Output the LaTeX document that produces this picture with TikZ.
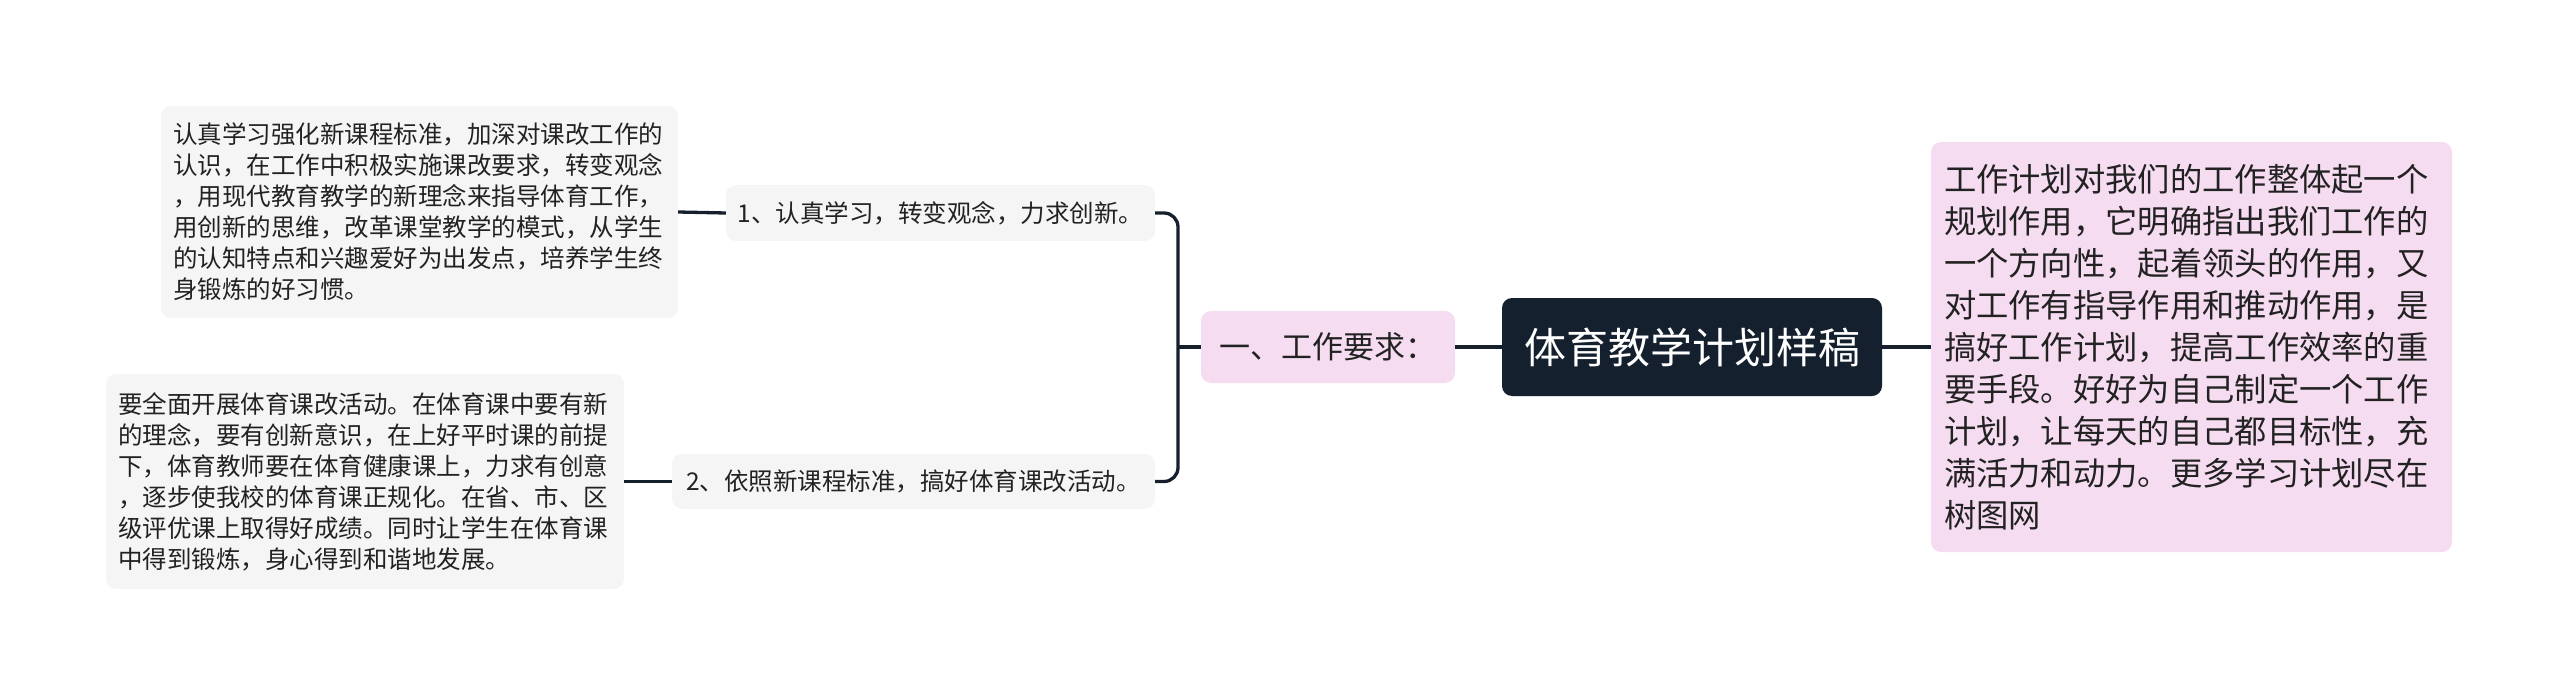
\documentclass[tikz,border=0pt]{standalone}
\usepackage{fontspec}
\newfontfamily\cjk{Noto Sans CJK SC}
\definecolor{leafgrey}{HTML}{F5F5F5}
\definecolor{pinkfill}{HTML}{F6DCF0}
\definecolor{rootfill}{HTML}{15202E}
\definecolor{textdark}{HTML}{222222}
\definecolor{linecol}{HTML}{16202D}
\tikzset{
  leafbox/.style={fill=leafgrey, rounded corners=10pt, inner sep=0pt, align=left, text=textdark,
    font=\cjk\fontsize{24.5}{31}\selectfont},
  midbox/.style={fill=leafgrey, rounded corners=10pt, inner sep=0pt, text=textdark,
    font=\cjk\fontsize{24.5}{30}\selectfont},
  reqbox/.style={fill=pinkfill, rounded corners=10pt, inner sep=0pt, text=textdark,
    font=\cjk\fontsize{31}{36}\selectfont},
  rootbox/.style={fill=rootfill, rounded corners=10pt, inner sep=0pt, text=white,
    font=\cjk\fontsize{42}{48}\selectfont},
  notebox/.style={fill=pinkfill, rounded corners=10pt, inner sep=0pt, align=left, text=textdark,
    font=\cjk\fontsize{32.3}{42}\selectfont},
  conn/.style={draw=linecol, line width=3.3pt},
}
\begin{document}
\begin{tikzpicture}[x=1pt,y=-1pt]
\useasboundingbox (0,0) rectangle (2560,695);
% leaf 1
\node[leafbox, minimum width=517pt, minimum height=212pt, text width=493pt] (leafA) at (419.5,212)
{认真学习强化新课程标准，加深对课改工作的\\
认识，在工作中积极实施课改要求，转变观念\\
，用现代教育教学的新理念来指导体育工作，\\
用创新的思维，改革课堂教学的模式，从学生\\
的认知特点和兴趣爱好为出发点，培养学生终\\
身锻炼的好习惯。};
% leaf 2
\node[leafbox, minimum width=518pt, minimum height=215pt, text width=494pt] (leafB) at (365,481.5)
{要全面开展体育课改活动。在体育课中要有新\\
的理念，要有创新意识，在上好平时课的前提\\
下，体育教师要在体育健康课上，力求有创意\\
，逐步使我校的体育课正规化。在省、市、区\\
级评优课上取得好成绩。同时让学生在体育课\\
中得到锻炼，身心得到和谐地发展。};
% sub nodes
\node[midbox, minimum width=429pt, minimum height=56pt] (subA) at (940.5,213) {1、认真学习，转变观念，力求创新。};
\node[midbox, minimum width=483pt, minimum height=55pt] (subB) at (913.5,481.5) {2、依照新课程标准，搞好体育课改活动。};
% requirement
\node[reqbox, minimum width=254pt, minimum height=72pt] (req) at (1328,347) {一、工作要求：};
% root
\node[rootbox, minimum width=380pt, minimum height=98pt] (root) at (1692,347) {体育教学计划样稿};
% note
\node[notebox, minimum width=521pt, minimum height=410pt, text width=495pt] (note) at (2191.5,347)
{工作计划对我们的工作整体起一个\\
规划作用，它明确指出我们工作的\\
一个方向性，起着领头的作用，又\\
对工作有指导作用和推动作用，是\\
搞好工作计划，提高工作效率的重\\
要手段。好好为自己制定一个工作\\
计划，让每天的自己都目标性，充\\
满活力和动力。更多学习计划尽在\\
树图网};
% connectors
\coordinate (bx) at (1178,347);
\draw[conn] (leafA.east) -- (subA.west);
\draw[conn] (leafB.east) -- (subB.west);
\draw[conn, rounded corners=14pt] (subA.east) -| (bx) |- (subB.east);
\draw[conn] (bx) -- (req.west);
\draw[conn] (req.east) -- (root.west);
\draw[conn] (root.east) -- (note.west);
\end{tikzpicture}
\end{document}
